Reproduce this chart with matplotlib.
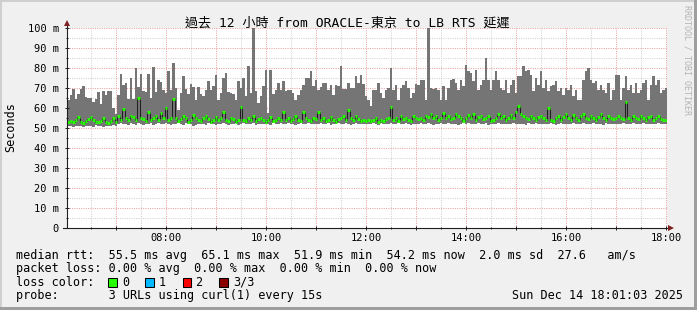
import numpy as np
import matplotlib
matplotlib.use("Agg")
import matplotlib.pyplot as plt
from matplotlib.patches import Rectangle
from matplotlib import transforms

# ---------------- data (ms), 3-minute buckets from 06:01 to 18:01 ----------------
smoke_max = [
    64, 66.5, 69.5, 64.5, 67, 69.5, 71, 65.7, 64.8, 64.8, 63, 64.5, 68, 62, 68.5, 66.5, 68.5, 68.5, 59.8, 57,
    66.5, 77, 71.5, 72.7, 64.5, 74.8, 64.5, 80, 70.7, 77, 68.7, 68, 76.8, 65, 80.7, 68, 74, 73,
    68.8, 67.5, 78.3, 68.8, 82.5, 70, 59.2, 67.5, 76.2, 69.5, 67.2, 72, 70.5, 64.2, 70.5, 67.2, 66, 69.2,
    73.3, 68.8, 71.2, 76.5, 64.2, 67.5, 75, 77.5, 68, 67.5, 67, 64.2, 73.3, 70, 75, 66, 80.8, 67.5,
    100,
    68.3, 62.5, 65.8, 70.8, 79.2, 57.5, 79.2, 67.2, 69.2, 72.5, 69.2, 73.3, 68.3, 69.2, 69.2, 67.5, 64.2,
    66.7, 69.2, 71.7, 75, 75, 78.3, 70.8, 74.2, 69.2, 70.5, 72.5, 72.5, 69.2, 71.7, 66.7, 71.7, 70.8, 80.8,
    69.5, 69.5, 72.5,
    70, 70, 75.8, 72.5, 76.7, 72, 66, 64.2, 60.8, 69.2, 69.2, 72.5, 67.5, 65, 69.2, 70, 80, 69.2, 71.7,
    64.2, 70, 71.7, 73.3, 70, 65, 67.5, 72, 71.7, 74.2, 74.2, 64.2, 100, 70, 69.5, 70, 69.2, 64.2, 70.8,
    64.2, 70, 74.2, 74.5, 72.5, 69.2, 74.2, 71,
    81.7, 78.3, 77.5, 73.3, 79.2, 69.2, 71.7, 74.2, 85,
    74.2, 69.2, 74.2, 78.3, 74.2, 70, 69.2, 74.2, 67.5, 71.7,
    74.2, 67.5, 75.8, 76.2, 80.8, 78.3, 79.2, 76.7, 68.3, 75,
    71.7, 78.3, 70, 74.2, 68.3, 70.8, 71.7, 73.3, 68.3, 70,
    66.7, 70, 69.2, 71.7, 65.8, 69.2, 64.2, 64.2, 74.2, 78.3,
    80, 74.2, 72.5, 73.3, 69.2, 71.7, 69.2, 67.5, 72.5, 64.2,
    69.2, 76.7, 76.7, 64.2, 70, 76.2, 68.8, 71.7, 67.5, 72.5,
    67.5, 69.2, 72.5, 74.2, 64.2, 71.7, 76.2, 71.7, 74.2, 67.5,
    69.2, 70,
]

smoke_min = [
    50.8, 51, 50.5, 51.2, 50.8, 51, 50.6, 51.2, 50.9, 51, 50.7, 51.3, 50.8, 51, 50.6, 51.1, 50.9, 51.2, 51.5, 51,
    52, 52.5, 51.8, 52.2, 51.5, 52.3, 52, 51.6, 52.4, 52, 51.7, 52.2, 51.9, 52.5, 51.6, 52, 52.3, 51.8, 52.1, 52.4,
    52, 51.5, 52.2, 51.8, 52.4, 52, 51.6, 52.3, 51.9, 52.1, 50.8, 51.5, 52.2, 51.8, 52, 51.6, 52.3, 51.9, 52.2, 51.7,
    52, 51.8, 52.4, 52.1, 51.6, 52.2, 51.9, 52.3, 51.7, 52, 52.4, 51.8, 52.1, 51.9, 52.3, 51.6, 52, 52.2, 51.8, 52.1,
    52.2, 51.7, 52.4, 51.9, 52, 52.3, 51.8, 52.1, 52.4, 51.9, 52.2, 51.6, 52, 52.3, 51.8, 52.1, 52.5, 51.9, 52.2, 51.8,
    52.1, 52.4, 51.8, 52, 52.3, 51.7, 52.2, 51.9, 52.4, 52, 51.8, 52.3, 52.1, 51.6, 52, 52.4, 51.9, 52.2, 52, 51.8,
    52.2, 51.9, 52.4, 52, 51.7, 52.3, 52.1, 51.8, 52.2, 52.5, 51.9, 52, 52.3, 51.8, 52.1, 52.4, 52, 51.7, 52.2, 52,
    51.9, 52.3, 52, 51.8, 52.4, 52.1, 51.7, 52.2, 52, 52.4, 51.8, 52.1, 52.3, 51.9, 52, 52.2, 51.6, 52.1, 52.4, 51.9,
    52.3, 52, 51.8, 52.2, 52.4, 51.9, 52.1, 52.3, 51.7, 52, 52.2, 51.8, 52.4, 52.1, 51.9, 52.2, 52, 51.8, 52.3, 52.1,
    51.8, 52.2, 52, 51.6, 52.3, 52.1, 51.9, 52.4, 52, 51.8, 52.2, 52.1, 51.9, 52.3, 52, 51.7, 52.2, 52.4, 51.9, 52.1,
    52, 51.8, 52.3, 52.1, 51.9, 52.2, 52.4, 52, 51.8, 52.1, 52.3, 51.9, 52.2, 52, 51.7, 52.3, 52.1, 51.9, 52.2, 52,
    52.1, 51.9, 52.3, 52, 51.8, 52.2, 52.4, 52, 51.9, 52.1, 52.3, 51.8, 52, 52.2, 51.9, 52.1, 52.3, 52, 51.8, 52.1,
]

median = [
    53, 53.5, 52.8, 54, 55.5, 53, 52.5, 53.5, 54.5, 55.5, 54, 53, 52.8, 53.5, 55, 53, 52.5, 53.5, 55, 53,
    56, 54, 59.5, 55, 54, 56, 55.5, 54, 65.2, 55, 54.5, 53.5, 58.2, 54, 55, 56, 54, 57.7, 55, 59.8,
    54, 55, 64.5, 55, 53.5, 54.5, 56, 55, 53, 54, 56.5, 55, 54, 53.5, 55, 56, 54.5, 53, 54, 55.5,
    54, 55, 58, 54, 53.5, 55, 54.5, 53, 54, 60.3, 54, 53.5, 55, 54, 56, 53.5, 54.5, 55, 54, 53,
    54, 55.5, 53.5, 54, 55, 54, 58, 54, 55, 53.5, 54.5, 56, 54, 53.5, 58, 55, 54, 53.5, 55, 54.5,
    58, 54, 55, 53.5, 54, 55.5, 54, 53, 54.5, 55, 56, 54, 59, 55, 54, 56, 54.5, 53.5, 54, 53.5,
    54, 53.5, 54, 55, 53, 54, 53.5, 54.5, 55, 60.3, 54, 55, 53.5, 56, 54.5, 55, 54, 53.5, 56, 55,
    54.5, 55, 54, 56, 55.5, 57, 55, 56, 54, 55, 57.5, 55, 56, 54.5, 55, 57, 56, 55, 53.5, 55,
    56.5, 55, 57, 54, 55.5, 56, 54.5, 55, 56, 53.5, 54, 55, 57, 55, 56, 54, 55, 56.5, 55, 58,
    61.2, 57, 56, 55, 54.5, 56, 55, 54, 55.5, 56, 55, 54, 60, 54, 53.5, 55, 56, 54, 55.5, 57,
    55, 54, 56.5, 55, 54, 56, 57, 55, 54.5, 56, 55, 54, 55.5, 57, 55, 54, 56, 55, 54.5, 55,
    56, 55, 54.5, 62.8, 55, 54, 56, 55, 54.5, 56, 55, 54, 55.5, 56, 54, 55, 56, 54.5, 54, 54.2,
]

y_ticks = [0, 10, 20, 30, 40, 50, 60, 70, 80, 90, 100]
y_labels = ["0", "10 m", "20 m", "30 m", "40 m", "50 m", "60 m", "70 m", "80 m", "90 m", "100 m"]
x_label_hours = [8, 10, 12, 14, 16, 18]
x_labels = ["08:00", "10:00", "12:00", "14:00", "16:00", "18:00"]

loss_labels = ["0", "1", "2", "3/3"]
loss_colors = ["#26ff00", "#00b8ff", "#ff0000", "#8b0000"]

title = "過去 12 小時 from ORACLE-東京 to LB RTS 延遲"
legend_rows = [
    "median rtt:  55.5 ms avg  65.1 ms max  51.9 ms min  54.2 ms now  2.0 ms sd  27.6   am/s",
    "packet loss: 0.00 % avg  0.00 % max  0.00 % min  0.00 % now",
    "loss color:",
    "probe:       3 URLs using curl(1) every 15s",
]
stamp = "Sun Dec 14 18:01:03 2025"

# ---------------- figure ----------------
W, H, DPI = 697, 310, 100
MONO = "DejaVu Sans Mono"
fig = plt.figure(figsize=(W / DPI, H / DPI), dpi=DPI, facecolor="#f0f0f0")


def fx(x):
    return x / W


def fy(y):
    return 1 - y / H


# 3-D border
fig.add_artist(Rectangle((0, fy(2)), 1, 2 / H, transform=fig.transFigure, color="#cfcfcf", lw=0))
fig.add_artist(Rectangle((0, 0), 2 / W, 1, transform=fig.transFigure, color="#cfcfcf", lw=0))
fig.add_artist(Rectangle((0, 0), 1, 3 / H, transform=fig.transFigure, color="#9e9e9e", lw=0))
fig.add_artist(Rectangle((fx(694), 0), 3 / W, 1, transform=fig.transFigure, color="#9e9e9e", lw=0))

X0, X1, Y0, Y1 = 67, 667, 28, 228
ax = fig.add_axes([fx(X0), fy(Y1), (X1 - X0) / W, (Y1 - Y0) / H])
ax.set_facecolor("white")
for s in ax.spines.values():
    s.set_visible(False)

t_start = 6 + 1 / 60 + 3 / 3600
step = 3 / 60
n = len(smoke_max)
edges = t_start + step * np.arange(n + 1)
t_end = t_start + 12
ax.set_xlim(t_start, t_end)
ax.set_ylim(0, 100)

# grid (below the data)
dot = (0, (1, 1.2))
minor_c = "#d2d2d2"
major_c = "#eba3a3"
for v in range(5, 100, 10):
    ax.axhline(v, color=minor_c, lw=0.75, ls=dot, zorder=0.5)
for v in range(10, 101, 10):
    ax.axhline(v, color=major_c, lw=0.75, ls=dot, zorder=0.6)
for h in np.arange(6.5, 18, 1.0):
    ax.axvline(h, color=minor_c, lw=0.75, ls=dot, zorder=0.5)
for h in range(7, 19):
    ax.axvline(h, color=major_c, lw=0.75, ls=dot, zorder=0.6)

# smoke
ax.stairs(smoke_max, edges, baseline=smoke_min, fill=True, color="#757575", lw=0, zorder=1)
# median
ax.stairs(median, edges, baseline=None, color="#202020", lw=0.75, zorder=2)
ax.hlines(median, edges[:-1], edges[1:], colors=loss_colors[0], lw=2.2, zorder=3)

# ticks (marks only)
ax.set_yticks(y_ticks)
ax.set_yticks(list(range(5, 100, 10)), minor=True)
ax.set_xticks(list(range(7, 19)))
ax.set_xticks(list(np.arange(6.5, 18, 1.0)), minor=True)
ax.tick_params(which="both", labelleft=False, labelbottom=False, color="#1f1f1f", width=0.72,
               direction="inout")
ax.tick_params(which="major", length=3.5)
ax.tick_params(which="minor", length=2)

axis_c = "#1f1f1f"
arrow_c = "#801f1f"
ax.plot([t_start, t_start], [0, 102.5], color=axis_c, lw=0.8, clip_on=False, zorder=6)
ax.plot([t_start - 0.09, t_end + 0.03], [0, 0], color=axis_c, lw=0.8, clip_on=False, zorder=6)
ax.plot([t_start], [102.3], marker="^", ms=4.2, color=arrow_c, mew=0, clip_on=False, zorder=7)
ax.plot([t_end + 0.07], [0], marker=">", ms=4.2, color=arrow_c, mew=0, clip_on=False, zorder=7)

# tick labels
ytr = transforms.offset_copy(ax.get_yaxis_transform(), fig=fig, x=-8, y=-3.8, units="dots")
for v, lab in zip(y_ticks, y_labels):
    ax.text(0, v, lab, transform=ytr, ha="right", va="baseline", fontsize=7.5, family=MONO)
xtr = transforms.offset_copy(ax.get_xaxis_transform(), fig=fig, x=0, y=-12.7, units="dots")
for h, lab in zip(x_label_hours, x_labels):
    ax.text(h, 0, lab, transform=xtr, ha="center", va="baseline", fontsize=7.5, family=MONO)

# title, y label, watermark
fig.text(fx(347.5), fy(26.5), title, ha="center", va="baseline", fontsize=9.4,
         family=[MONO, "Noto Sans CJK TC"])
fig.text(fx(10.5), fy(127), "Seconds", rotation=90, ha="center", va="center", fontsize=8.5, family=MONO)
fig.text(fx(687.5), fy(5), "RRDTOOL / TOBI OETIKER", rotation=-90, ha="center", va="top",
         fontsize=6, family=MONO, color="#b4b4b4")

# legend
baselines = [258.5, 272, 285.7, 299.3]
for row, b in zip(legend_rows, baselines):
    fig.text(fx(16), fy(b), row, ha="left", va="baseline", fontsize=8.5, family=MONO)
fig.text(fx(683), fy(baselines[3]), stamp, ha="right", va="baseline", fontsize=8.5, family=MONO)

box_x = [108.3, 145, 182.7, 219.3]
lab_x = [122, 158.5, 195.5, 233]
for bx, lx, lab, col in zip(box_x, lab_x, loss_labels, loss_colors):
    fig.add_artist(Rectangle((fx(bx), fy(286.7)), 8.5 / W, 8.5 / H, transform=fig.transFigure,
                             facecolor=col, edgecolor="black", lw=0.75))
    fig.text(fx(lx), fy(baselines[2]), lab, ha="left", va="baseline", fontsize=8.5, family=MONO)

fig.savefig("out.png", dpi=DPI, facecolor=fig.get_facecolor())
